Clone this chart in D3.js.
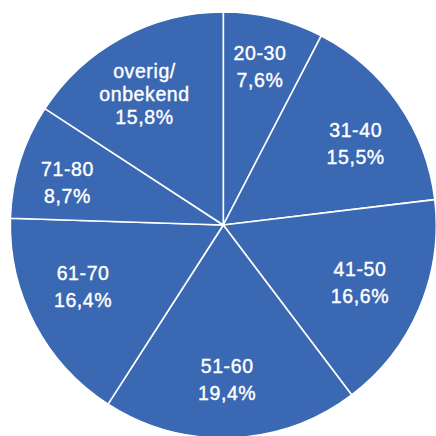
<!DOCTYPE html>
<html>
<head>
<meta charset="utf-8">
<script src="https://cdn.jsdelivr.net/npm/d3@7"></script>
<style>
  html, body { margin: 0; padding: 0; background: #ffffff; }
  svg { display: block; }
</style>
</head>
<body>
<svg id="chart" width="436" height="436"></svg>
<script>
const categories = ["20-30", "31-40", "41-50", "51-60", "61-70", "71-80", "overig/\nonbekend"];
const values = [7.6, 15.5, 16.6, 19.4, 16.4, 8.7, 15.8];

// layout only: small label nudges (px) from the arc-centroid position
const labelNudges = [[0, -8], [5, 7], [-6, -3], [-2, 0], [-3, -11], [-8, 4], [-5, 5]];

const W = 436, H = 436;
const cx = 223.3, cy = 225, R = 213;
const labelR = 155;
const fill = "rgb(59,104,178)";

const svg = d3.select("#chart");
const g = svg.append("g").attr("transform", `translate(${cx},${cy})`);

const data = categories.map((c, i) => ({ cat: c, val: values[i] }));
const pie = d3.pie().value(d => d.val).sort(null);
const arcs = pie(data);
const arc = d3.arc().innerRadius(0).outerRadius(R);
const labelArc = d3.arc().innerRadius(labelR).outerRadius(labelR);

g.selectAll("path.slice")
  .data(arcs)
  .join("path")
  .attr("class", "slice")
  .attr("d", arc)
  .attr("fill", fill)
  .attr("stroke", "#ffffff")
  .attr("stroke-width", 1.6)
  .attr("stroke-linejoin", "round");

const fmt = v => d3.format(".1f")(v).replace(".", ",") + "%";
const capH = 14;

arcs.forEach((a, k) => {
  let [x, y] = labelArc.centroid(a);
  x += labelNudges[k][0];
  y += labelNudges[k][1];
  const lines = a.data.cat.split("\n").concat([fmt(a.data.val)]);
  const L = lines.length > 2 ? 23 : 27;
  const first = y - (lines.length - 1) * L / 2 + capH / 2;
  const t = g.append("text")
    .attr("text-anchor", "middle")
    .attr("fill", "#ffffff")
    .attr("font-family", "'Liberation Sans', Arial, Helvetica, sans-serif")
    .attr("font-size", 19.5)
    .attr("font-weight", "normal")
    .attr("letter-spacing", 0.6)
    .style("paint-order", "stroke")
    .attr("stroke", "#ffffff")
    .attr("stroke-width", 0.4);
  lines.forEach((ln, i) => {
    t.append("tspan").attr("x", x).attr("y", first + i * L).text(ln);
  });
});
</script>
</body>
</html>
